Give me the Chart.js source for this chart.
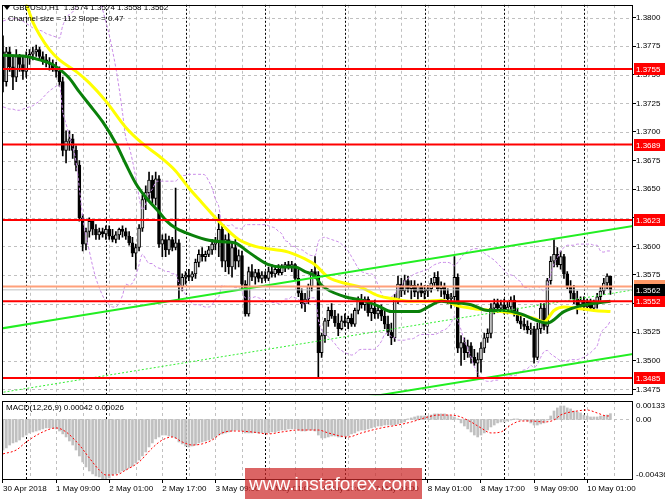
<!DOCTYPE html>
<html><head><meta charset="utf-8">
<script src="https://cdn.jsdelivr.net/npm/chart.js@4.4.1/dist/chart.umd.min.js"></script>
<style>
html,body{margin:0;padding:0;background:#fff;width:665px;height:499px;overflow:hidden;}
#a{position:absolute;left:0;top:0;}
#b{position:absolute;left:0;top:400px;}
#wm{position:absolute;left:245px;top:468px;width:177px;height:31px;background:rgba(205,40,40,0.72);color:#fff;font:19px "Liberation Sans",Arial,sans-serif;line-height:31px;text-align:center;}
</style></head><body>
<canvas id="a" width="665" height="400"></canvas>
<canvas id="b" width="665" height="99"></canvas>
<div id="wm">www.instaforex.com</div>
<script>
// ---------- DATA (GBPUSD H1, 30 Apr 17:00 .. 10 May 08:00) ----------
const opens=[1.3770,1.3744,1.3770,1.3757,1.3748,1.3766,1.3759,1.3753,1.3766,1.3768,1.3770,1.3772,1.3766,1.3763,1.3761,1.3759,1.3756,1.3753,1.3744,1.3684,
1.3692,1.3694,1.3684,1.3671,1.3625,1.3602,1.3613,1.3622,1.3615,1.3610,1.3613,1.3611,1.3615,1.3609,1.3606,1.3610,1.3615,1.3613,1.3609,1.3603,
1.3594,1.3599,1.3616,1.3641,1.3647,1.3658,1.3642,1.3659,1.3602,1.3606,1.3597,1.3606,1.3599,1.3603,1.3565,1.3573,1.3575,1.3573,1.3576,1.3586,
1.3593,1.3591,1.3593,1.3597,1.3602,1.3604,1.3615,1.3587,1.3606,1.3582,1.3599,1.3587,1.3592,1.3567,1.3541,1.3578,1.3573,1.3577,1.3572,1.3575,
1.3572,1.3578,1.3576,1.3580,1.3577,1.3582,1.3584,1.3582,1.3584,1.3572,1.3559,1.3550,1.3554,1.3565,1.3578,1.3575,1.3507,1.3522,1.3535,1.3544,
1.3539,1.3533,1.3528,1.3535,1.3533,1.3537,1.3532,1.3544,1.3553,1.3549,1.3554,1.3542,1.3546,1.3541,1.3544,1.3539,1.3532,1.3525,1.3520,1.3554,
1.3567,1.3561,1.3570,1.3563,1.3566,1.3560,1.3565,1.3559,1.3561,1.3563,1.3568,1.3573,1.3563,1.3565,1.3558,1.3554,1.3556,1.3573,1.3511,1.3516,
1.3507,1.3513,1.3503,1.3498,1.3501,1.3511,1.3520,1.3524,1.3546,1.3550,1.3546,1.3549,1.3544,1.3547,1.3553,1.3541,1.3535,1.3532,1.3530,1.3527,
1.3528,1.3503,1.3528,1.3546,1.3530,1.3570,1.3587,1.3593,1.3584,1.3591,1.3576,1.3565,1.3559,1.3554,1.3549,1.3553,1.3547,1.3551,1.3546,1.3550,
1.3556,1.3561,1.3568,1.3574];
const highs=[1.3784,1.3774,1.3774,1.3766,1.3772,1.3768,1.3766,1.3770,1.3772,1.3774,1.3776,1.3774,1.3770,1.3768,1.3765,1.3763,1.3761,1.3757,1.3748,1.3701,
1.3701,1.3698,1.3688,1.3675,1.3628,1.3616,1.3625,1.3623,1.3619,1.3616,1.3616,1.3618,1.3618,1.3615,1.3613,1.3616,1.3618,1.3616,1.3613,1.3608,
1.3602,1.3619,1.3645,1.3653,1.3665,1.3662,1.3665,1.3662,1.3610,1.3611,1.3609,1.3608,1.3651,1.3606,1.3576,1.3578,1.3580,1.3578,1.3589,1.3597,
1.3599,1.3596,1.3600,1.3606,1.3608,1.3628,1.3619,1.3610,1.3613,1.3604,1.3606,1.3597,1.3596,1.3570,1.3582,1.3584,1.3580,1.3580,1.3578,1.3578,
1.3582,1.3584,1.3582,1.3584,1.3584,1.3586,1.3587,1.3587,1.3585,1.3580,1.3563,1.3559,1.3567,1.3580,1.3591,1.3578,1.3524,1.3537,1.3547,1.3550,
1.3544,1.3541,1.3539,1.3541,1.3539,1.3541,1.3546,1.3556,1.3558,1.3556,1.3556,1.3550,1.3553,1.3547,1.3549,1.3544,1.3539,1.3533,1.3558,1.3574,
1.3572,1.3575,1.3574,1.3570,1.3570,1.3567,1.3568,1.3566,1.3566,1.3572,1.3577,1.3578,1.3569,1.3568,1.3563,1.3559,1.3591,1.3576,1.3522,1.3520,
1.3518,1.3516,1.3510,1.3507,1.3516,1.3524,1.3528,1.3550,1.3554,1.3554,1.3553,1.3554,1.3551,1.3556,1.3557,1.3546,1.3541,1.3537,1.3535,1.3533,
1.3530,1.3533,1.3550,1.3550,1.3572,1.3591,1.3606,1.3599,1.3596,1.3593,1.3578,1.3570,1.3566,1.3561,1.3556,1.3556,1.3554,1.3554,1.3553,1.3559,
1.3565,1.3572,1.3576,1.3574];
const lows=[1.3735,1.3740,1.3753,1.3737,1.3744,1.3753,1.3746,1.3748,1.3759,1.3763,1.3766,1.3763,1.3759,1.3757,1.3754,1.3753,1.3748,1.3740,1.3679,1.3673,
1.3684,1.3677,1.3666,1.3622,1.3596,1.3597,1.3608,1.3610,1.3606,1.3606,1.3608,1.3606,1.3606,1.3604,1.3603,1.3606,1.3608,1.3606,1.3601,1.3591,
1.3580,1.3596,1.3613,1.3632,1.3641,1.3636,1.3636,1.3599,1.3591,1.3591,1.3593,1.3596,1.3597,1.3553,1.3561,1.3567,1.3570,1.3570,1.3572,1.3582,
1.3587,1.3587,1.3591,1.3593,1.3597,1.3591,1.3582,1.3578,1.3576,1.3573,1.3580,1.3582,1.3563,1.3539,1.3539,1.3570,1.3567,1.3569,1.3568,1.3570,
1.3570,1.3573,1.3573,1.3575,1.3575,1.3578,1.3580,1.3578,1.3570,1.3556,1.3546,1.3543,1.3550,1.3561,1.3572,1.3485,1.3503,1.3516,1.3530,1.3537,
1.3530,1.3522,1.3527,1.3530,1.3528,1.3530,1.3530,1.3541,1.3546,1.3544,1.3539,1.3535,1.3537,1.3537,1.3535,1.3528,1.3522,1.3514,1.3517,1.3550,
1.3556,1.3558,1.3560,1.3554,1.3556,1.3554,1.3556,1.3554,1.3556,1.3560,1.3565,1.3561,1.3556,1.3554,1.3550,1.3546,1.3553,1.3507,1.3496,1.3501,
1.3503,1.3498,1.3496,1.3484,1.3490,1.3507,1.3516,1.3520,1.3541,1.3542,1.3542,1.3541,1.3541,1.3544,1.3539,1.3533,1.3528,1.3527,1.3524,1.3523,
1.3498,1.3501,1.3524,1.3527,1.3524,1.3567,1.3582,1.3582,1.3580,1.3572,1.3563,1.3554,1.3550,1.3541,1.3546,1.3544,1.3544,1.3544,1.3543,1.3546,
1.3553,1.3558,1.3563,1.3558];
const closes=[1.3744,1.3770,1.3757,1.3748,1.3766,1.3759,1.3753,1.3766,1.3768,1.3770,1.3772,1.3766,1.3763,1.3761,1.3759,1.3756,1.3753,1.3744,1.3684,1.3692,
1.3694,1.3684,1.3671,1.3625,1.3602,1.3613,1.3622,1.3615,1.3610,1.3613,1.3611,1.3615,1.3609,1.3606,1.3610,1.3615,1.3613,1.3609,1.3603,1.3594,
1.3599,1.3616,1.3641,1.3647,1.3658,1.3642,1.3659,1.3602,1.3606,1.3597,1.3606,1.3599,1.3603,1.3565,1.3573,1.3575,1.3573,1.3576,1.3586,1.3593,
1.3591,1.3593,1.3597,1.3602,1.3604,1.3615,1.3587,1.3606,1.3582,1.3599,1.3587,1.3592,1.3567,1.3541,1.3578,1.3573,1.3577,1.3572,1.3575,1.3572,
1.3578,1.3576,1.3580,1.3577,1.3582,1.3584,1.3582,1.3584,1.3572,1.3559,1.3550,1.3554,1.3565,1.3578,1.3575,1.3507,1.3522,1.3535,1.3544,1.3539,
1.3533,1.3528,1.3535,1.3533,1.3537,1.3532,1.3544,1.3553,1.3549,1.3554,1.3542,1.3546,1.3541,1.3544,1.3539,1.3532,1.3525,1.3520,1.3554,1.3567,
1.3561,1.3570,1.3563,1.3566,1.3560,1.3565,1.3559,1.3561,1.3563,1.3568,1.3573,1.3563,1.3565,1.3558,1.3554,1.3556,1.3573,1.3511,1.3516,1.3507,
1.3513,1.3503,1.3498,1.3501,1.3511,1.3520,1.3524,1.3546,1.3550,1.3546,1.3549,1.3544,1.3547,1.3553,1.3541,1.3535,1.3532,1.3530,1.3527,1.3528,
1.3503,1.3528,1.3546,1.3530,1.3570,1.3587,1.3593,1.3584,1.3591,1.3576,1.3565,1.3559,1.3554,1.3549,1.3553,1.3547,1.3551,1.3546,1.3550,1.3556,
1.3561,1.3568,1.3574,1.3562];

// moving averages [bar, price]
const maYellow=[[0,1.3850],[7,1.3812],[9,1.3796],[11,1.3785],[14,1.3772],[17,1.3763],[22,1.3753],[26,1.3743],[31,1.3727],[37,1.3704],[42,1.3690],[47,1.3679],[52,1.3666],[56,1.3651],
[60,1.3638],[65,1.3622],[71,1.3606],[76,1.3600],[86,1.3595],[91,1.3589],[94,1.3584],[98,1.3573],[104,1.3567],[108,1.3564],[113,1.3557],[118,1.3554],
[123,1.3552],[127,1.3552],[132,1.3553],[137,1.3548],[141,1.3546],[147,1.3544],[155,1.3541],[160,1.3537],[163,1.3534],[166,1.3544],[169,1.3547],
[173,1.3546],[178,1.3544],[183,1.3543]];
const maGreen=[[0,1.3767],[7,1.3766],[11,1.3763],[15,1.3759],[17,1.3755],[20,1.3747],[23,1.3735],[26,1.3724],[30,1.3709],[34,1.3690],[37,1.3672],[40,1.3655],
[43,1.3643],[47,1.3630],[49,1.3623],[52,1.3616],[55,1.3612],[61,1.3606],[66,1.3604],[70,1.3603],[73,1.3597],[76,1.3591],[80,1.3584],[84,1.3582],
[88,1.3582],[91,1.3578],[94,1.3574],[96,1.3566],[103,1.3556],[108,1.3553],[113,1.3548],[117,1.3543],[125,1.3543],[128,1.3547],[132,1.3552],[135,1.3551],
[141,1.3549],[146,1.3544],[151,1.3544],[156,1.3541],[161,1.3535],[164,1.3533],[169,1.3543],[174,1.3548],[183,1.3552]];
// Bollinger-type bands, one value per bar
const bandUpper=[1.3797,1.3798,1.3799,1.3799,1.3799,1.3798,1.3797,1.3795,1.3793,1.3791,1.3790,1.3789,1.3788,1.3786,1.3785,1.3784,1.3783,1.3782,1.3793,1.3799,
1.3803,1.3805,1.3809,1.3819,1.3828,1.3831,1.3831,1.3828,1.3824,1.3816,1.3807,1.3796,1.3785,1.3771,1.3756,1.3738,1.3717,1.3695,1.3687,1.3675,
1.3660,1.3643,1.3632,1.3637,1.3646,1.3650,1.3656,1.3657,1.3657,1.3657,1.3657,1.3657,1.3657,1.3660,1.3662,1.3662,1.3663,1.3663,1.3663,1.3663,
1.3663,1.3662,1.3657,1.3651,1.3641,1.3635,1.3619,1.3619,1.3618,1.3619,1.3616,1.3616,1.3615,1.3619,1.3619,1.3619,1.3619,1.3619,1.3619,1.3619,
1.3618,1.3617,1.3616,1.3613,1.3611,1.3605,1.3604,1.3600,1.3600,1.3597,1.3597,1.3595,1.3593,1.3592,1.3592,1.3604,1.3607,1.3608,1.3607,1.3606,
1.3605,1.3604,1.3602,1.3599,1.3596,1.3591,1.3586,1.3581,1.3578,1.3577,1.3576,1.3576,1.3573,1.3566,1.3559,1.3555,1.3555,1.3556,1.3558,1.3563,
1.3565,1.3570,1.3572,1.3574,1.3576,1.3577,1.3578,1.3579,1.3580,1.3582,1.3584,1.3585,1.3586,1.3586,1.3586,1.3585,1.3583,1.3586,1.3590,1.3594,
1.3596,1.3597,1.3598,1.3598,1.3597,1.3594,1.3592,1.3590,1.3588,1.3585,1.3582,1.3579,1.3576,1.3575,1.3574,1.3571,1.3569,1.3564,1.3564,1.3562,
1.3565,1.3565,1.3563,1.3561,1.3566,1.3575,1.3585,1.3590,1.3596,1.3599,1.3601,1.3601,1.3601,1.3602,1.3602,1.3602,1.3602,1.3602,1.3601,1.3601,
1.3596,1.3595,1.3596,1.3596];
const bandLower=[1.3722,1.3721,1.3720,1.3720,1.3719,1.3719,1.3720,1.3721,1.3722,1.3723,1.3725,1.3727,1.3730,1.3733,1.3736,1.3738,1.3740,1.3741,1.3718,1.3707,
1.3697,1.3687,1.3674,1.3651,1.3626,1.3609,1.3596,1.3583,1.3572,1.3564,1.3557,1.3552,1.3549,1.3547,1.3547,1.3551,1.3557,1.3567,1.3566,1.3568,
1.3574,1.3584,1.3593,1.3589,1.3585,1.3585,1.3582,1.3581,1.3580,1.3578,1.3578,1.3576,1.3576,1.3568,1.3563,1.3558,1.3554,1.3550,1.3549,1.3549,
1.3548,1.3547,1.3547,1.3549,1.3554,1.3556,1.3566,1.3565,1.3565,1.3565,1.3564,1.3564,1.3561,1.3555,1.3555,1.3555,1.3556,1.3555,1.3554,1.3552,
1.3552,1.3551,1.3551,1.3550,1.3551,1.3554,1.3554,1.3556,1.3555,1.3554,1.3550,1.3549,1.3555,1.3555,1.3555,1.3536,1.3527,1.3523,1.3521,1.3518,
1.3515,1.3511,1.3509,1.3507,1.3506,1.3505,1.3506,1.3509,1.3510,1.3510,1.3510,1.3510,1.3510,1.3513,1.3517,1.3523,1.3524,1.3521,1.3520,1.3518,
1.3518,1.3518,1.3519,1.3519,1.3520,1.3522,1.3523,1.3523,1.3523,1.3523,1.3523,1.3524,1.3526,1.3527,1.3529,1.3533,1.3539,1.3535,1.3527,1.3517,
1.3511,1.3503,1.3495,1.3489,1.3485,1.3483,1.3482,1.3482,1.3483,1.3483,1.3485,1.3485,1.3486,1.3487,1.3487,1.3488,1.3491,1.3492,1.3493,1.3496,
1.3494,1.3497,1.3503,1.3508,1.3509,1.3506,1.3504,1.3502,1.3500,1.3500,1.3500,1.3501,1.3501,1.3501,1.3502,1.3503,1.3505,1.3507,1.3510,1.3513,
1.3523,1.3528,1.3530,1.3535];
// regression channel
const channelBars=[-1,190];
const channelUpper=[1.3528,1.3618];
const channelMiddle=[1.3472,1.3562];
const channelLower=[1.3416,1.3506];
// horizontal levels
const levels=[1.3755,1.3689,1.3623,1.3552,1.3485];
const askPrice=1.3565, bidPrice=1.3562;
// axis ticks
const priceTicks=[1.3475,1.3500,1.3525,1.3550,1.3575,1.3600,1.3625,1.3650,1.3675,1.3700,1.3725,1.3750,1.3775,1.3800];
const timeLabelBars=[0,16,32,48,64,80,96,112,128,144,160,176];
const timeLabels=['30 Apr 2018','1 May 09:00','2 May 01:00','2 May 17:00','3 May 09:00','4 May 01:00','4 May 17:00','7 May 09:00','8 May 01:00','8 May 17:00','9 May 09:00','10 May 01:00'];
const dayStartBars=[7,31,55,79,103,127,151,175];
const gridBars=[8,16,24,32,40,48,56,64,72,80,88,96,104,112,120,128,136,144,152,160,168,176,184];
// MACD(12,26,9)
const macdHist=[-0.00220,-0.00205,-0.00184,-0.00169,-0.00162,-0.00148,-0.00126,-0.00112,-0.00097,-0.00090,-0.00083,-0.00076,-0.00068,-0.00061,-0.00061,-0.00061,-0.00068,-0.00083,-0.00104,-0.00126,
-0.00155,-0.00184,-0.00220,-0.00263,-0.00306,-0.00342,-0.00371,-0.00392,-0.00407,-0.00414,-0.00430,-0.00436,-0.00421,-0.00400,-0.00392,-0.00385,-0.00371,-0.00364,-0.00349,-0.00335,
-0.00313,-0.00292,-0.00263,-0.00234,-0.00198,-0.00169,-0.00140,-0.00126,-0.00112,-0.00112,-0.00119,-0.00126,-0.00133,-0.00162,-0.00176,-0.00191,-0.00198,-0.00191,-0.00184,-0.00169,
-0.00162,-0.00155,-0.00148,-0.00140,-0.00126,-0.00112,-0.00104,-0.00097,-0.00090,-0.00083,-0.00076,-0.00076,-0.00083,-0.00097,-0.00097,-0.00097,-0.00095,-0.00097,-0.00096,-0.00097,
-0.00095,-0.00090,-0.00090,-0.00083,-0.00076,-0.00076,-0.00068,-0.00068,-0.00068,-0.00076,-0.00083,-0.00083,-0.00076,-0.00076,-0.00083,-0.00112,-0.00133,-0.00133,-0.00126,-0.00119,
-0.00119,-0.00126,-0.00126,-0.00119,-0.00119,-0.00104,-0.00097,-0.00083,-0.00076,-0.00076,-0.00068,-0.00061,-0.00054,-0.00047,-0.00047,-0.00040,-0.00040,-0.00040,-0.00040,-0.00032,
-0.00025,-0.00018,0.00004,0.00011,0.00018,0.00025,0.00025,0.00025,0.00025,0.00032,0.00040,0.00040,0.00040,0.00040,0.00032,0.00025,0.00018,0.00004,-0.00025,-0.00047,
-0.00068,-0.00090,-0.00112,-0.00126,-0.00112,-0.00097,-0.00076,-0.00054,-0.00040,-0.00025,-0.00018,-0.00018,-0.00011,-0.00004,0.00004,0.00004,-0.00004,-0.00004,-0.00011,-0.00025,
-0.00040,-0.00040,-0.00032,-0.00025,-0.00004,0.00025,0.00061,0.00083,0.00097,0.00097,0.00083,0.00076,0.00061,0.00054,0.00047,0.00032,0.00025,0.00018,0.00018,0.00018,
0.00025,0.00025,0.00032,0.00042];
const macdSignal=[[0,-0.00248],[4,-0.00220],[7,-0.00162],[12,-0.00090],[16,-0.00061],[19,-0.00090],[23,-0.00184],[26,-0.00277],[29,-0.00364],[31,-0.00400],
[34,-0.00400],[37,-0.00364],[41,-0.00306],[45,-0.00205],[48,-0.00148],[51,-0.00126],[54,-0.00162],[57,-0.00184],[60,-0.00176],[63,-0.00148],[66,-0.00097],
[70,-0.00083],[75,-0.00090],[80,-0.00104],[84,-0.00090],[89,-0.00076],[95,-0.00076],[98,-0.00097],[104,-0.00126],[108,-0.00097],[114,-0.00061],[119,-0.00040],
[123,-0.00018],[128,0.00018],[131,0.00032],[134,0.00032],[137,0.00025],[141,-0.00018],[144,-0.00061],[147,-0.00097],[150,-0.00090],[153,-0.00040],[156,-0.00011],
[159,-0.00011],[163,-0.00018],[166,-0.00004],[168,0.00032],[173,0.00061],[176,0.00068],[179,0.00047],[182,0.00025],[183,0.00026]];
const macdMin=-0.00436, macdMax=0.00133;

// ---------- CHARTS ----------
const FONT='"Liberation Sans", Arial, sans-serif';
const XMIN=-0.3, XMAX=189.8;
const idx=closes.map((_,i)=>i);
const up=i=>closes[i]>=opens[i];
const pts=a=>a.map(p=>({x:p[0],y:p[1]}));
const perBar=a=>a.map((v,i)=>({x:i,y:v}));
const seg=(ys)=>channelBars.map((b,k)=>({x:b,y:ys[k]}));
const hl=(v)=>[{x:XMIN,y:v},{x:XMAX,y:v}];
const lineDs=(data,color,width,dash,order)=>({type:'line',data,borderColor:color,borderWidth:width,borderDash:dash||[],pointRadius:0,fill:false,cubicInterpolationMode:'monotone',order,clip:0});

function vline(ctx,x,t,b){ctx.beginPath();ctx.moveTo(x,t);ctx.lineTo(x,b);ctx.stroke();}
function hline(ctx,y,l,r){ctx.beginPath();ctx.moveTo(l,y);ctx.lineTo(r,y);ctx.stroke();}
function drawVGrid(chart){
  const {ctx,chartArea:a,scales:{x}}=chart;
  ctx.save();ctx.lineWidth=1;
  ctx.strokeStyle='#c0c0c0';ctx.setLineDash([3,3]);
  gridBars.forEach(b=>{const px=Math.round(x.getPixelForValue(b))+0.5; if(px<a.right-1) vline(ctx,px,a.top,a.bottom);});
  ctx.strokeStyle='#000';ctx.setLineDash([2,2]);
  dayStartBars.forEach(b=>{const px=Math.round(x.getPixelForValue(b))+0.5; vline(ctx,px,a.top,a.bottom);});
  ctx.restore();
}
function frame(chart){
  const {ctx,chartArea:a}=chart;
  ctx.save();ctx.strokeStyle='#000';ctx.lineWidth=1;ctx.setLineDash([]);
  ctx.strokeRect(Math.round(a.left)+0.5,Math.round(a.top)+0.5,Math.round(a.right-a.left)-1,Math.round(a.bottom-a.top)-1);
  ctx.restore();
}

const mainPlugin={
  id:'mainDeco',
  beforeDatasetsDraw(chart){
    const {ctx,chartArea:a,scales:{y}}=chart;
    ctx.save();ctx.lineWidth=1;ctx.strokeStyle='#c0c0c0';ctx.setLineDash([3,3]);
    priceTicks.forEach(v=>{const py=Math.round(y.getPixelForValue(v))+0.5; hline(ctx,py,a.left,a.right);});
    ctx.restore();
    drawVGrid(chart);
  },
  afterDraw(chart){
    const {ctx,chartArea:a,scales:{y}}=chart;
    frame(chart);
    ctx.save();
    ctx.font='8px '+FONT;ctx.textBaseline='middle';ctx.textAlign='left';
    function tag(v,bg,fg,txt){const py=Math.round(y.getPixelForValue(v));ctx.fillStyle=bg;ctx.fillRect(a.right+1,py-6,31,12);ctx.fillStyle=fg;ctx.fillText(txt,a.right+3,py+0.5);}
    levels.forEach(v=>tag(v,'#ff0000','#fff',v.toFixed(4)));
    tag(askPrice,'#ff9966','#fff',askPrice.toFixed(4));
    tag(bidPrice,'#000','#fff',bidPrice.toFixed(4));
    // header
    ctx.fillStyle='#000';
    ctx.beginPath();ctx.moveTo(4,6);ctx.lineTo(10,6);ctx.lineTo(7,10);ctx.closePath();ctx.fill();
    ctx.fillText('GBPUSD,H1  '+[opens[183],highs[183],lows[183],closes[183]].map(v=>v.toFixed(4)).join(' '),13,8);
    ctx.fillText('Channel size = 112 Slope = 0.47',8,19);
    ctx.restore();
  }
};

new Chart(document.getElementById('a'),{
  type:'bar',
  data:{datasets:[
    {type:'bar',data:idx.map(i=>({x:i,y:[lows[i],highs[i]]})),backgroundColor:'#000',barThickness:1,grouped:false,order:20},
    {type:'bar',data:idx.map(i=>({x:i,y:[opens[i],closes[i]]})),backgroundColor:c=>up(c.dataIndex)?'#d4d4d4':'#000',borderColor:'#000',borderWidth:1,borderSkipped:false,barThickness:3,grouped:false,order:19},
    lineDs(perBar(bandUpper),'#c98be8',1,[3,2],12),
    lineDs(perBar(bandLower),'#c98be8',1,[3,2],12),
    lineDs(pts(maYellow),'#ffff00',3,null,9),
    lineDs(pts(maGreen),'#0a800a',3,null,8),
    lineDs(seg(channelMiddle),'#33ee33',1,[2,2],5),
    lineDs(seg(channelUpper),'#22ee22',2,null,4),
    lineDs(seg(channelLower),'#22ee22',2,null,4),
    ...levels.map(v=>lineDs(hl(v),'#ff0000',2,null,3)),
    lineDs(hl(askPrice),'#ffa07a',2,null,2),
    lineDs(hl(bidPrice),'#c0c0c0',1,null,1)
  ]},
  options:{
    responsive:false,animation:false,events:[],
    layout:{padding:{left:2,top:2,right:0,bottom:2}},
    plugins:{legend:{display:false},tooltip:{enabled:false}},
    scales:{
      x:{type:'linear',min:XMIN,max:XMAX,display:false,offset:false,grid:{offset:false}},
      y:{type:'linear',position:'right',min:1.34699,max:1.38112,
        afterFit(s){s.width=32;},
        afterBuildTicks(s){s.ticks=priceTicks.map(v=>({value:v}));},
        ticks:{callback:v=>Number(v).toFixed(4),font:{family:FONT,size:8},color:'#000',padding:0,autoSkip:false},
        grid:{drawOnChartArea:false,tickLength:3,color:'#000'},
        border:{display:false}}
    }
  },
  plugins:[mainPlugin]
});

const macdPlugin={
  id:'macdDeco',
  beforeDatasetsDraw(chart){
    const {ctx,chartArea:a,scales:{y}}=chart;
    drawVGrid(chart);
    ctx.save();ctx.lineWidth=1;ctx.strokeStyle='#c0c0c0';ctx.setLineDash([3,3]);
    hline(ctx,Math.round(y.getPixelForValue(0))+0.5,a.left,a.right);
    ctx.restore();
  },
  afterDraw(chart){
    const {ctx,chartArea:a,scales:{y}}=chart;
    frame(chart);
    ctx.save();ctx.font='8px '+FONT;ctx.fillStyle='#000';ctx.textBaseline='middle';ctx.textAlign='left';
    const last=macdHist[macdHist.length-1], lastSig=macdSignal[macdSignal.length-1][1];
    ctx.fillText('MACD(12,26,9) '+last.toFixed(5)+' '+lastSig.toFixed(5),6,8);
    ctx.fillText(macdMax.toFixed(5),a.right+3,y.getPixelForValue(macdMax)+5);
    ctx.fillText('0.00',a.right+3,y.getPixelForValue(0));
    ctx.fillText(macdMin.toFixed(5),a.right+3,y.getPixelForValue(macdMin)-5);
    ctx.restore();
  }
};

new Chart(document.getElementById('b'),{
  type:'bar',
  data:{datasets:[
    {type:'bar',data:idx.map(i=>({x:i,y:macdHist[i]})),backgroundColor:'#c0c0c0',barThickness:2,order:5},
    lineDs(pts(macdSignal),'#ff0000',1,[2,2],1)
  ]},
  options:{
    responsive:false,animation:false,events:[],
    layout:{padding:{left:2,top:1,right:0,bottom:0}},
    plugins:{legend:{display:false},tooltip:{enabled:false}},
    scales:{
      x:{type:'linear',min:XMIN,max:XMAX,position:'bottom',offset:false,
        afterBuildTicks(s){s.ticks=timeLabelBars.map(v=>({value:v}));},
        afterFit(s){s.height=19;},
        ticks:{autoSkip:false,maxRotation:0,minRotation:0,align:'start',callback:(v,i)=>timeLabels[i],font:{family:FONT,size:8},color:'#000',padding:1},
        grid:{drawOnChartArea:false,tickLength:3,color:'#000',offset:false},
        border:{display:false}},
      y:{type:'linear',position:'right',min:macdMin,max:macdMax,
        afterFit(s){s.width=32;},
        ticks:{display:false},grid:{display:false},border:{display:false}}
    }
  },
  plugins:[macdPlugin]
});
</script></body></html>
